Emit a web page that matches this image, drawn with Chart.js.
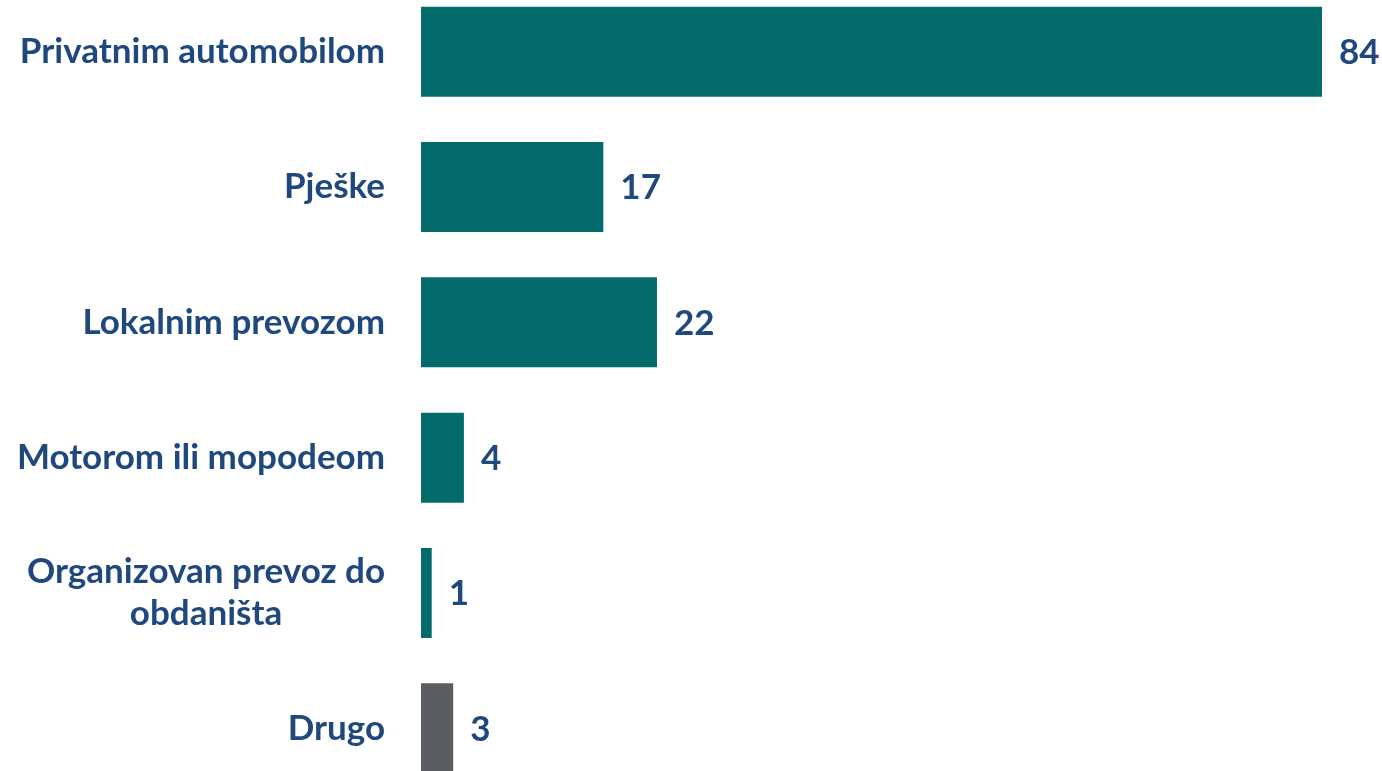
<!DOCTYPE html>
<html>
<head>
<meta charset="utf-8">
<script src="https://cdn.jsdelivr.net/npm/chart.js@4.4.0/dist/chart.umd.min.js"></script>
<style>
  html, body { margin: 0; padding: 0; background: #fff; overflow: hidden; }
  #wrap { position: absolute; left: 0; top: -16px; width: 1382px; height: 812px; }
</style>
</head>
<body>
<div id="wrap"><canvas id="chart"></canvas></div>
<script>
// categories and values
const categories = [
  ['Privatnim automobilom'],
  ['Pješke'],
  ['Lokalnim prevozom'],
  ['Motorom ili mopodeom'],
  ['Organizovan prevoz do', 'obdaništa'],
  ['Drugo']
];
const values = [84, 17, 22, 4, 1, 3];
const barColors = ['#036b6b', '#036b6b', '#036b6b', '#036b6b', '#036b6b', '#5a5d61'];

const textColor = '#1f497d';
const fontSpec = 'bold 35px Lato';

// category labels: right edge fixed, multi-line blocks centred
const labelPlugin = {
  id: 'catLabels',
  afterDraw(chart) {
    const ctx = chart.ctx;
    const y = chart.scales.y;
    const right = 385;
    const lineH = 42;
    ctx.save();
    ctx.font = fontSpec;
    ctx.fillStyle = textColor;
    ctx.textBaseline = 'middle';
    ctx.textAlign = 'center';
    categories.forEach((lines, i) => {
      const cy = y.getPixelForValue(i);
      const w = Math.max(...lines.map(l => ctx.measureText(l).width));
      const cx = right - w / 2;
      const y0 = cy - (lines.length - 1) * lineH / 2;
      lines.forEach((l, k) => ctx.fillText(l, cx, y0 + k * lineH));
    });
    ctx.restore();
  }
};

// value labels just past the bar end
const valuePlugin = {
  id: 'valueLabels',
  afterDatasetsDraw(chart) {
    const ctx = chart.ctx;
    const meta = chart.getDatasetMeta(0);
    ctx.save();
    ctx.font = fontSpec;
    ctx.fillStyle = textColor;
    ctx.textBaseline = 'middle';
    ctx.textAlign = 'left';
    meta.data.forEach((bar, i) => {
      ctx.fillText(String(values[i]), bar.x + 17, bar.y + 1);
    });
    ctx.restore();
  }
};

new Chart(document.getElementById('chart'), {
  type: 'bar',
  data: {
    labels: categories.map(c => c.join(' ')),
    datasets: [{
      data: values,
      backgroundColor: barColors,
      borderWidth: 0,
      categoryPercentage: 1,
      barPercentage: 0.665
    }]
  },
  options: {
    indexAxis: 'y',
    responsive: true,
    maintainAspectRatio: false,
    animation: false,
    layout: { padding: { left: 421, right: 60, top: 0, bottom: 0 } },
    plugins: {
      legend: { display: false },
      tooltip: { enabled: false }
    },
    scales: {
      x: { display: false, min: 0, max: 84 },
      y: { display: false }
    }
  },
  plugins: [labelPlugin, valuePlugin]
});
</script>
</body>
</html>
